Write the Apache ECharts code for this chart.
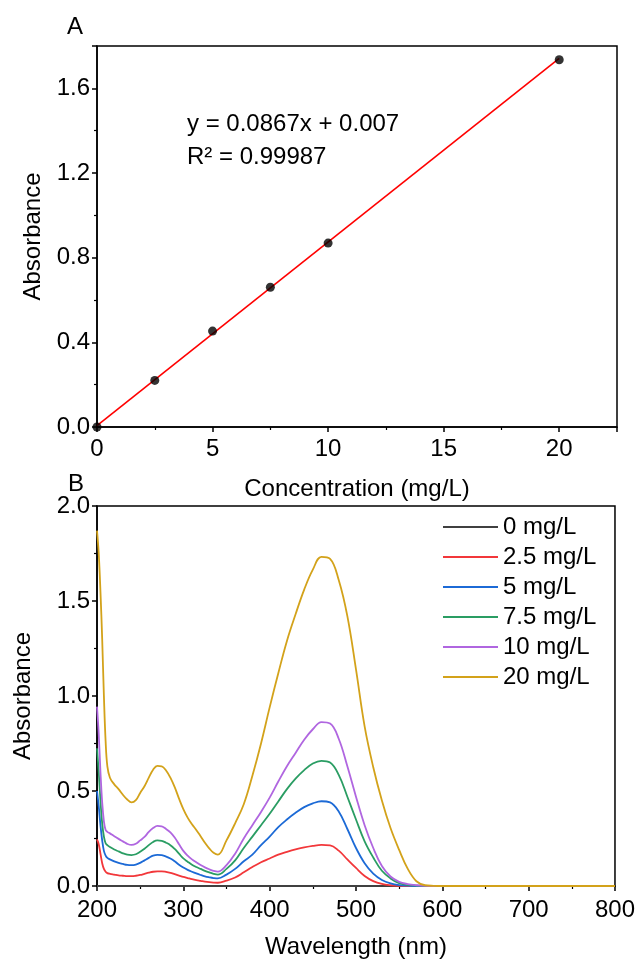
<!DOCTYPE html>
<html>
<head>
<meta charset="utf-8">
<script src="https://cdn.jsdelivr.net/npm/echarts/dist/echarts.min.js"></script>
<style>
    html, body { margin: 0; padding: 0; background: #fff; }
    #main { width: 638px; height: 961px; }
</style>
</head>
<body>
<div id="main"></div>
<script>
    // A: calibration points
    var conc = [0, 2.5, 5, 7.5, 10, 20];
    var absorb = [0, 0.22, 0.453, 0.66, 0.869, 1.735];
    // linear fit y = 0.0867x + 0.007, ends of the drawn line
    var fitX = [0, 20];
    var fitY = [0.007, 1.741];

    // B: spectra
    var wavelength = [200, 202, 204, 206, 208, 210, 212,
        215, 220, 225, 230, 235, 240, 245, 250, 255, 260, 265, 270, 275, 280, 285, 290, 295,
        300, 305, 310, 315, 320, 325, 330, 335, 340,
        350, 360, 370, 380, 390, 400, 410, 420, 430, 440, 450, 460,
        470, 480, 490, 500, 510, 520, 530, 540, 550, 560, 570, 580, 590, 600, 700, 800];
    var abs20 = [1.87, 1.75, 1.55, 1.3, 1.0, 0.76, 0.63,
        0.57, 0.535, 0.51, 0.48, 0.455, 0.44, 0.452, 0.49, 0.525, 0.57, 0.612, 0.632, 0.63, 0.608, 0.57, 0.52, 0.46,
        0.405, 0.36, 0.325, 0.295, 0.262, 0.228, 0.198, 0.175, 0.165,
        0.24, 0.33, 0.43, 0.58, 0.75, 0.94, 1.12, 1.29, 1.43, 1.56, 1.665, 1.732,
        1.722, 1.61, 1.42, 1.14, 0.84, 0.625, 0.45, 0.305, 0.19, 0.09, 0.025, 0.004, 0.001, 0, 0, 0];
    var abs10 = [0.944, 0.8, 0.6, 0.44, 0.34, 0.295, 0.285,
        0.277, 0.262, 0.248, 0.235, 0.222, 0.216, 0.222, 0.24, 0.258, 0.285, 0.305, 0.316, 0.314, 0.3, 0.282, 0.255, 0.22,
        0.185, 0.16, 0.14, 0.125, 0.11, 0.098, 0.088, 0.08, 0.076,
        0.11, 0.17, 0.25, 0.32, 0.39, 0.465, 0.55, 0.63, 0.7, 0.77, 0.825, 0.863,
        0.855, 0.775, 0.63, 0.47, 0.32, 0.2, 0.105, 0.05, 0.022, 0.01, 0.004, 0.001, 0, 0, 0, 0];
    var abs7_5 = [0.725, 0.6, 0.45, 0.33, 0.26, 0.225, 0.215,
        0.205, 0.192, 0.182, 0.172, 0.165, 0.163, 0.167, 0.18, 0.196, 0.215, 0.232, 0.24, 0.238, 0.228, 0.215, 0.195, 0.17,
        0.145, 0.128, 0.112, 0.1, 0.09, 0.08, 0.072, 0.064, 0.06,
        0.09, 0.135, 0.2, 0.26, 0.32, 0.38, 0.445, 0.51, 0.565, 0.61, 0.645, 0.659,
        0.65, 0.585, 0.47, 0.35, 0.235, 0.15, 0.08, 0.04, 0.015, 0.006, 0.002, 0, 0, 0, 0, 0];
    var abs5 = [0.5, 0.42, 0.32, 0.24, 0.185, 0.16, 0.148,
        0.14, 0.13, 0.122, 0.116, 0.111, 0.11, 0.113, 0.122, 0.135, 0.148, 0.16, 0.164, 0.162, 0.155, 0.145, 0.13, 0.112,
        0.097, 0.085, 0.075, 0.066, 0.058, 0.051, 0.046, 0.042, 0.04,
        0.06, 0.09, 0.13, 0.165, 0.215, 0.26, 0.31, 0.35, 0.385, 0.415, 0.435, 0.446,
        0.44, 0.392, 0.3, 0.2, 0.12, 0.065, 0.032, 0.014, 0.005, 0.002, 0, 0, 0, 0, 0, 0];
    var abs2_5 = [0.245, 0.22, 0.17, 0.12, 0.09, 0.075, 0.068,
        0.064, 0.06, 0.056, 0.054, 0.052, 0.052, 0.054, 0.058, 0.064, 0.07, 0.075, 0.077, 0.077, 0.074, 0.069, 0.062, 0.055,
        0.048, 0.042, 0.036, 0.031, 0.027, 0.023, 0.02, 0.018, 0.017,
        0.028, 0.045, 0.072, 0.1, 0.125, 0.145, 0.165, 0.18, 0.193, 0.203, 0.211, 0.216,
        0.214, 0.186, 0.14, 0.095, 0.053, 0.026, 0.011, 0.004, 0.001, 0, 0, 0, 0, 0, 0, 0];
    // blank stays on the baseline
    var wavelength0 = [200, 800];
    var abs0 = [0, 0];

    var seriesNames = ['0 mg/L', '2.5 mg/L', '5 mg/L', '7.5 mg/L', '10 mg/L', '20 mg/L'];
    var seriesColors = ['#404040', '#f2373a', '#1c6ad6', '#2a9d63', '#b066e0', '#d3a21a'];

    var FONT = 'Liberation Sans';
    var FS = 24;

    function pairs(xs, ys) {
        var out = [];
        for (var i = 0; i < xs.length; i++) {
            out.push([xs[i], ys[i]]);
        }
        return out;
    }

    // shared axis look
    function valueAxis(gridIndex, min, max, interval, extra) {
        var ax = {
            type: 'value',
            gridIndex: gridIndex,
            min: min,
            max: max,
            interval: interval,
            axisLine: { show: true, onZero: false, lineStyle: { color: '#000', width: 1.5 } },
            axisTick: { show: true, length: 5, lineStyle: { color: '#000', width: 1.5 } },
            minorTick: { show: true, splitNumber: 2, length: 3, lineStyle: { color: '#000', width: 1.2 } },
            splitLine: { show: false },
            minorSplitLine: { show: false },
            axisLabel: { color: '#000', fontSize: FS, fontFamily: FONT, margin: 7 },
            nameLocation: 'middle',
            nameTextStyle: { color: '#000', fontSize: FS, fontFamily: FONT }
        };
        for (var k in extra) {
            if (k === 'axisLabel') {
                for (var j in extra[k]) ax.axisLabel[j] = extra[k][j];
            } else {
                ax[k] = extra[k];
            }
        }
        return ax;
    }

    var spectra = [
        pairs(wavelength0, abs0),
        pairs(wavelength, abs2_5),
        pairs(wavelength, abs5),
        pairs(wavelength, abs7_5),
        pairs(wavelength, abs10),
        pairs(wavelength, abs20)
    ];

    var series = [
        {
            type: 'line',
            xAxisIndex: 0,
            yAxisIndex: 0,
            data: pairs(fitX, fitY),
            symbol: 'none',
            lineStyle: { color: '#ff0000', width: 1.6 },
            z: 2
        },
        {
            type: 'scatter',
            xAxisIndex: 0,
            yAxisIndex: 0,
            data: pairs(conc, absorb),
            symbolSize: 9,
            itemStyle: { color: '#000' },
            clip: false,
            z: 3
        }
    ];
    for (var i = 0; i < spectra.length; i++) {
        series.push({
            name: seriesNames[i],
            type: 'line',
            xAxisIndex: 1,
            yAxisIndex: 1,
            data: spectra[i],
            symbol: 'none',
            smooth: 0.4,
            color: seriesColors[i],
            lineStyle: { color: seriesColors[i], width: 1.8 },
            z: 2 + i
        });
    }

    var chart = echarts.init(document.getElementById('main'), null, { renderer: 'canvas' });
    chart.setOption({
        backgroundColor: '#fff',
        animation: false,
        grid: [
            { left: 97, top: 46, width: 520, height: 381, show: true, borderColor: '#000', borderWidth: 1.5 },
            { left: 97, top: 506, width: 520, height: 380, show: true, borderColor: '#000', borderWidth: 1.5 }
        ],
        xAxis: [
            valueAxis(0, 0, 22.5, 5, {
                name: 'Concentration (mg/L)', nameGap: 50,
                axisLabel: { showMaxLabel: false, margin: 10 }
            }),
            valueAxis(1, 200, 800, 100, {
                name: 'Wavelength (nm)', nameGap: 49,
                axisLabel: { margin: 12 }
            })
        ],
        yAxis: [
            valueAxis(0, 0, 1.8, 0.4, {
                name: 'Absorbance', nameGap: 45, nameRotate: 90,
                axisLabel: { showMaxLabel: false, formatter: function (v) { return v.toFixed(1); } }
            }),
            valueAxis(1, 0, 2, 0.5, {
                name: 'Absorbance', nameGap: 62, nameRotate: 90,
                axisLabel: { formatter: function (v) { return v.toFixed(1); } }
            })
        ],
        legend: {
            data: seriesNames,
            orient: 'vertical',
            left: 438,
            top: 510,
            icon: 'rect',
            itemWidth: 55,
            itemHeight: 2,
            itemGap: 6,
            selectedMode: false,
            textStyle: { color: '#000', fontSize: FS, fontFamily: FONT }
        },
        graphic: [
            { type: 'text', left: 67, top: 15, style: { text: 'A', fill: '#000', font: FS + 'px "' + FONT + '"' } },
            { type: 'text', left: 68, top: 472, style: { text: 'B', fill: '#000', font: FS + 'px "' + FONT + '"' } },
            { type: 'text', left: 187, top: 112, style: { text: 'y = 0.0867x + 0.007', fill: '#000', font: FS + 'px "' + FONT + '"' } },
            { type: 'text', left: 187, top: 145, style: { text: 'R² = 0.99987', fill: '#000', font: FS + 'px "' + FONT + '"' } }
        ],
        series: series
    });
</script>
</body>
</html>
